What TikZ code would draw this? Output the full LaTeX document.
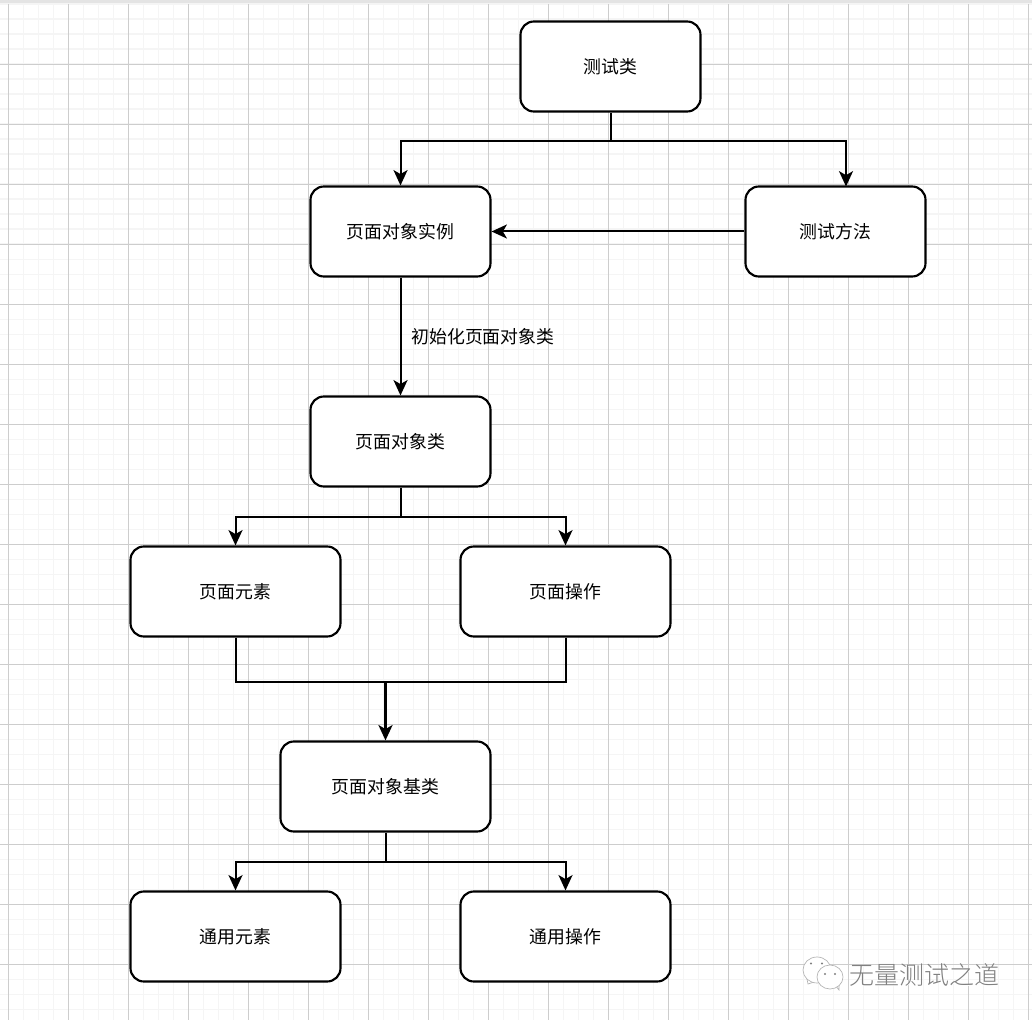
\documentclass[tikz,border=0pt]{standalone}
\usepackage{fontspec}
\setmainfont{Noto Sans CJK SC}
\newfontfamily\markfont{Noto Sans CJK SC Light}
\usetikzlibrary{arrows.meta}
\definecolor{gridmajor}{HTML}{CDCDCD}
\definecolor{gridminor}{HTML}{F5F5F5}
\definecolor{topband}{HTML}{E4E4E4}
\definecolor{markgrey}{HTML}{808080}
\tikzset{
  x=0.75pt, y=-0.75pt,
  card/.style={draw=black, line width=1.6pt, fill=white, rounded corners=10pt,
    minimum height=67.5pt, inner sep=0pt, font=\fontsize{13.4pt}{16pt}\selectfont},
  cardwide/.style={card, minimum width=135pt},
  cardwider/.style={card, minimum width=157.5pt},
  link/.style={draw=black, line width=1.5pt},
  flow/.style={link, -{Stealth[length=11.5pt, width=10.5pt, inset=3pt]}},
  flowheavy/.style={flow, line width=2.2pt},
  edgetext/.style={font=\fontsize{13.4pt}{16pt}\selectfont, inner sep=0pt},
  bubble/.style={draw=markgrey!60, line width=0.5pt, fill=white}
}
\begin{document}
\begin{tikzpicture}
\useasboundingbox (0,0) rectangle (1032,1020);
\fill[white] (0,0) rectangle (1032,1020);

% background grid: minor lines every 15 px, major lines every 60 px
\begin{scope}[gridminor, line width=1.2pt]
  \foreach \k in {0,...,69} {
    \draw ({8.3+15*\k},4) -- ({8.3+15*\k},1020);
    \draw (0,{4.3+15*\k}) -- (1032,{4.3+15*\k});
  }
\end{scope}
\begin{scope}[gridmajor, line width=0.6pt]
  \foreach \k in {0,...,17} {
    \draw ({8.3+60*\k},4) -- ({8.3+60*\k},1020);
    \draw (0,{64.3+60*\k}) -- (1032,{64.3+60*\k});
  }
\end{scope}
\fill[topband] (0,0) rectangle (1032,3.5);

% boxes
\node[cardwide]  (testclass)  at (610.5,66.5)  {测试类};
\node[cardwide]  (instance)   at (400.5,231.5) {页面对象实例};
\node[cardwide]  (method)     at (835.5,231.5) {测试方法};
\node[cardwide]  (pageclass)  at (400.5,441.5) {页面对象类};
\node[cardwider] (elements)   at (235.5,591.5) {页面元素};
\node[cardwider] (actions)    at (565.5,591.5) {页面操作};
\node[cardwider] (baseclass)  at (385.5,786.5) {页面对象基类};
\node[cardwider] (commonel)   at (235.5,936.5) {通用元素};
\node[cardwider] (commonact)  at (565.5,936.5) {通用操作};

% junction points of the branching connectors
\coordinate (split1) at (610.5,141.5);
\coordinate (methodin) at (846,186.5);
\coordinate (split2) at (400.5,516.5);
\coordinate (merge)  at (385.5,681.5);
\coordinate (split3) at (385.5,861.5);

\draw[flow] (testclass.south) -- (split1) -| (instance.north);
\draw[flow] (split1) -| (methodin);
\draw[flow] (method.west) -- (instance.east);
\draw[flow] (instance.south) -- (pageclass.north)
  node[pos=0.5, anchor=west, xshift=7.5pt, edgetext] {初始化页面对象类};
\draw[flow] (pageclass.south) -- (split2) -| (elements.north);
\draw[flow] (split2) -| (actions.north);
\draw[link] (elements.south) |- (merge);
\draw[link] (actions.south) |- (merge);
\draw[flowheavy] (merge) -- (baseclass.north);
\draw[flow] (baseclass.south) -- (split3) -| (commonel.north);
\draw[flow] (split3) -| (commonact.north);

% embossed signature in the lower right corner
\begin{scope}
  \draw[bubble] (807,979) -- (808,984) -- (817,981);
  \draw[bubble] (817,970) ellipse (14 and 13);
  \fill[markgrey] (811,963.5) circle (1.2) (822,963.5) circle (1.2);
  \draw[bubble] (835,985) -- (839,990) -- (839,983);
  \draw[bubble] (830,977) ellipse (13 and 12);
  \fill[markgrey] (825,974) circle (1.1) (835,974) circle (1.1);
  \node[inner sep=0pt, white, font=\markfont\fontsize{18.75pt}{22pt}\selectfont]
    (marklight) at (924.8,976) {无量测试之道};
  \node[inner sep=0pt, markgrey, font=\markfont\fontsize{18.75pt}{22pt}\selectfont]
    (markdark) at (924,975) {无量测试之道};
\end{scope}
\end{tikzpicture}
\end{document}
